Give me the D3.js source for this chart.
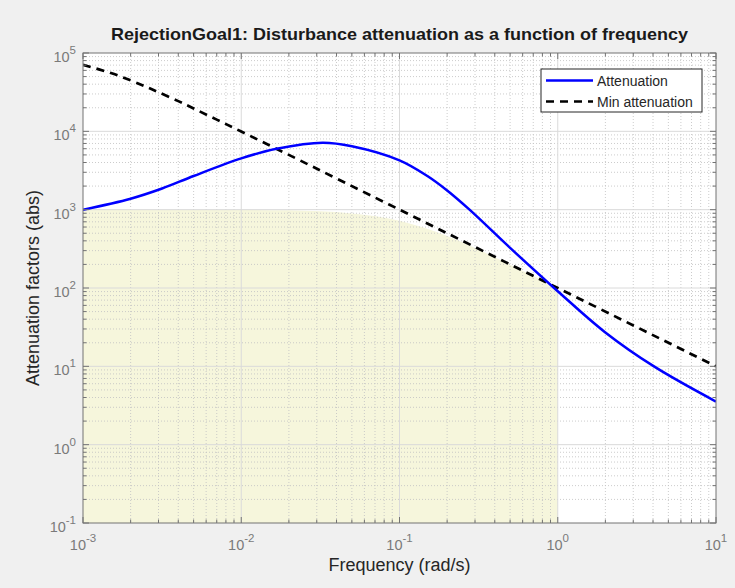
<!DOCTYPE html>
<html>
<head>
<meta charset="utf-8">
<script src="https://cdn.jsdelivr.net/npm/d3@7"></script>
<style>
  body { margin: 0; background: #f0f0f0; }
  svg { display: block; font-family: "Liberation Sans", Arial, sans-serif; }
</style>
</head>
<body>
<svg id="chart" width="735" height="588"></svg>
<script>
// values (frequency in rad/s, attenuation in abs)
var attenFreq = [0.001, 0.002, 0.00316, 0.005, 0.01, 0.0167, 0.0327, 0.05, 0.1, 0.15, 0.2, 0.277, 0.5, 1, 1.98, 4.08, 10];
var attenVal  = [1000, 1380, 1862, 2692, 4519, 5984, 7161, 6457, 4266, 2690, 1758, 1000, 325, 91, 27.5, 9.9, 3.55];

var minFreq = [0.001, 0.0015, 0.002, 0.0025, 0.003, 0.004, 0.005, 0.007, 0.01, 0.02, 0.1, 1, 10];
var minVal  = [70700, 55500, 44700, 37100, 31600, 24300, 19600, 14100, 9950, 5000, 1000, 100, 10];

var shadeFreq = [0.001, 0.01, 0.02, 0.05, 0.1, 0.2, 0.5, 1];
var shadeVal  = [1000, 995, 980, 894, 720, 460, 198, 100];

var xTicks = [-3, -2, -1, 0, 1];          // exponents
var yTicks = [-1, 0, 1, 2, 3, 4, 5];

var legendItems = ["Attenuation", "Min attenuation"];

var margin = { top: 53, right: 19, bottom: 65, left: 83 };
var width = 735 - margin.left - margin.right,
    height = 588 - margin.top - margin.bottom;

var svg = d3.select('#chart');

var x = d3.scaleLog().domain([1e-3, 1e1]).range([0, width]);
var y = d3.scaleLog().domain([1e-1, 1e5]).range([height, 0]);

var g = svg.append('g')
    .attr('transform', 'translate(' + margin.left + ',' + margin.top + ')');

g.append('rect')
    .attr('width', width).attr('height', height)
    .attr('fill', '#ffffff');

// shaded region
var area = d3.area()
    .x(d => x(d[0]))
    .y0(height)
    .y1(d => y(d[1]))
    .curve(d3.curveMonotoneX);

g.append('path')
    .datum(d3.zip(shadeFreq, shadeVal))
    .attr('d', area)
    .attr('fill', '#f6f6dc');

// minor values per decade
function minors(lo, hi) {
    var out = [];
    for (var e = lo; e < hi; e++) {
        for (var m = 2; m <= 9; m++) out.push(m * Math.pow(10, e));
    }
    return out;
}
var xMinor = minors(-3, 1), yMinor = minors(-1, 5);

// grid
var grid = g.append('g').attr('class', 'grid');
grid.selectAll('.xm').data(xMinor).enter().append('line')
    .attr('x1', d => x(d)).attr('x2', d => x(d))
    .attr('y1', 0).attr('y2', height)
    .attr('stroke', '#c4c4c4').attr('stroke-width', 1)
    .attr('stroke-dasharray', '1,2').attr('opacity', 0.85);
grid.selectAll('.ym').data(yMinor).enter().append('line')
    .attr('y1', d => y(d)).attr('y2', d => y(d))
    .attr('x1', 0).attr('x2', width)
    .attr('stroke', '#c4c4c4').attr('stroke-width', 1)
    .attr('stroke-dasharray', '1,2').attr('opacity', 0.85);
grid.selectAll('.xM').data(xTicks.slice(1, -1)).enter().append('line')
    .attr('x1', d => x(Math.pow(10, d))).attr('x2', d => x(Math.pow(10, d)))
    .attr('y1', 0).attr('y2', height)
    .attr('stroke', '#dadada').attr('stroke-width', 1);
grid.selectAll('.yM').data(yTicks.slice(1, -1)).enter().append('line')
    .attr('y1', d => y(Math.pow(10, d))).attr('y2', d => y(Math.pow(10, d)))
    .attr('x1', 0).attr('x2', width)
    .attr('stroke', '#dadada').attr('stroke-width', 1);

// curves
var line = d3.line()
    .x(d => x(d[0]))
    .y(d => y(d[1]))
    .curve(d3.curveCatmullRom.alpha(0.5));

g.append('clipPath').attr('id', 'clip')
    .append('rect').attr('width', width).attr('height', height);

g.append('path')
    .datum(d3.zip(minFreq, minVal))
    .attr('d', line)
    .attr('clip-path', 'url(#clip)')
    .attr('fill', 'none')
    .attr('stroke', '#000000')
    .attr('stroke-width', 2.7)
    .attr('stroke-dasharray', '8,6');

g.append('path')
    .datum(d3.zip(attenFreq, attenVal))
    .attr('d', line)
    .attr('clip-path', 'url(#clip)')
    .attr('fill', 'none')
    .attr('stroke', '#0000ff')
    .attr('stroke-width', 2.5);

// box + ticks (inward, all four sides)
var axisColor = '#737373';
var ticks = g.append('g').attr('stroke', axisColor).attr('stroke-width', 1);
xMinor.forEach(function (d) {
    ticks.append('line').attr('x1', x(d)).attr('x2', x(d)).attr('y1', height).attr('y2', height - 3.5);
    ticks.append('line').attr('x1', x(d)).attr('x2', x(d)).attr('y1', 0).attr('y2', 3.5);
});
yMinor.forEach(function (d) {
    ticks.append('line').attr('y1', y(d)).attr('y2', y(d)).attr('x1', 0).attr('x2', 3.5);
    ticks.append('line').attr('y1', y(d)).attr('y2', y(d)).attr('x1', width).attr('x2', width - 3.5);
});
xTicks.forEach(function (e) {
    var p = x(Math.pow(10, e));
    ticks.append('line').attr('x1', p).attr('x2', p).attr('y1', height).attr('y2', height - 6);
    ticks.append('line').attr('x1', p).attr('x2', p).attr('y1', 0).attr('y2', 6);
});
yTicks.forEach(function (e) {
    var p = y(Math.pow(10, e));
    ticks.append('line').attr('y1', p).attr('y2', p).attr('x1', 0).attr('x2', 6);
    ticks.append('line').attr('y1', p).attr('y2', p).attr('x1', width).attr('x2', width - 6);
});
g.append('rect')
    .attr('width', width).attr('height', height)
    .attr('fill', 'none').attr('stroke', axisColor).attr('stroke-width', 1);

// tick labels: 10 with superscript exponent
function powLabel(sel, e) {
    sel.append('tspan').text('10');
    sel.append('tspan').attr('dy', -8).attr('font-size', '11.5px').text(e);
}
xTicks.forEach(function (e) {
    var t = g.append('text')
        .attr('x', x(Math.pow(10, e)))
        .attr('y', height + 27)
        .attr('text-anchor', 'middle')
        .attr('font-size', '14.5px')
        .attr('fill', '#7a7a7a');
    powLabel(t, e);
});
yTicks.forEach(function (e) {
    var t = g.append('text')
        .attr('x', -7)
        .attr('y', y(Math.pow(10, e)) + 9)
        .attr('text-anchor', 'end')
        .attr('font-size', '14.5px')
        .attr('fill', '#7a7a7a');
    powLabel(t, e);
});

// axis labels + title
g.append('text')
    .attr('x', width / 2).attr('y', height + 48)
    .attr('text-anchor', 'middle')
    .attr('font-size', '18px')
    .attr('fill', '#262626')
    .text('Frequency (rad/s)');

g.append('text')
    .attr('transform', 'translate(-44,' + (height / 2) + ') rotate(-90)')
    .attr('text-anchor', 'middle')
    .attr('font-size', '18px')
    .attr('fill', '#262626')
    .text('Attenuation factors (abs)');

svg.append('text')
    .attr('x', margin.left + width / 2).attr('y', 40)
    .attr('text-anchor', 'middle')
    .attr('font-size', '17px')
    .attr('font-weight', 'bold')
    .attr('fill', '#1a1a1a')
    .attr('textLength', 577)
    .attr('lengthAdjust', 'spacingAndGlyphs')
    .text('RejectionGoal1: Disturbance attenuation as a function of frequency');

// legend
var lg = svg.append('g').attr('transform', 'translate(541,69)');
lg.append('rect')
    .attr('width', 161).attr('height', 43)
    .attr('fill', '#ffffff').attr('stroke', '#262626').attr('stroke-width', 1);
legendItems.forEach(function (name, i) {
    var yy = 11.5 + i * 21;
    lg.append('line')
        .attr('x1', 5).attr('x2', 52).attr('y1', yy).attr('y2', yy)
        .attr('stroke', i === 0 ? '#0000ff' : '#000000')
        .attr('stroke-width', i === 0 ? 2.5 : 2.7)
        .attr('stroke-dasharray', i === 0 ? null : '8,6');
    lg.append('text')
        .attr('x', 56).attr('y', yy + 5)
        .attr('font-size', '14px')
        .attr('fill', '#262626')
        .text(name);
});
</script>
</body>
</html>
